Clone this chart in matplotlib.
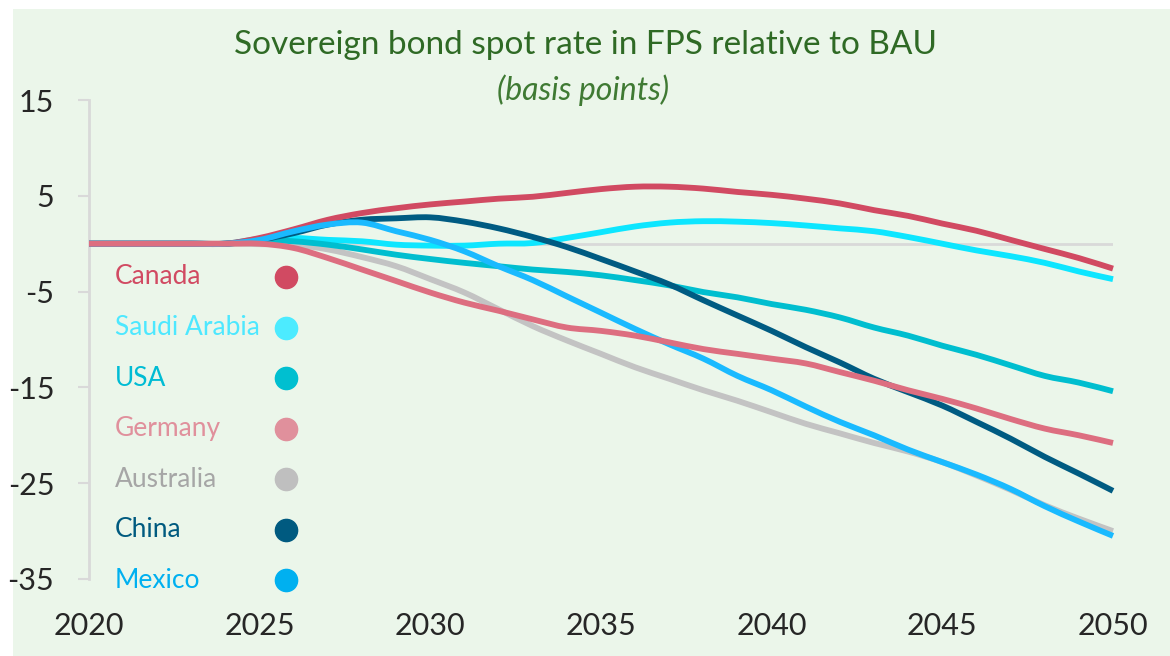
import numpy as np
import matplotlib
matplotlib.use("Agg")
import matplotlib.pyplot as plt
from matplotlib.patches import Rectangle, PathPatch
from matplotlib.path import Path

plt.rcParams['font.family'] = ['Lato', 'DejaVu Sans']

years = list(range(2020, 2051))

# values (basis points), 2020..2050
canada = [0, 0, 0, 0, 0, 0.6, 1.5, 2.5, 3.2, 3.7, 4.1, 4.4, 4.7, 4.9, 5.3, 5.7, 5.95,
          5.95, 5.75, 5.4, 5.1, 4.7, 4.2, 3.5, 2.9, 2.1, 1.35, 0.4, -0.55, -1.5, -2.6]
saudi = [0, 0, 0, 0, 0, 0.5, 0.6, 0.4, 0.25, -0.1, -0.2, -0.2, 0.0, 0.07, 0.6, 1.2, 1.8,
         2.2, 2.35, 2.3, 2.15, 1.9, 1.6, 1.3, 0.7, 0.0, -0.7, -1.3, -2.0, -2.9, -3.7]
usa = [0, 0, 0, 0, 0, 0.35, 0.25, -0.1, -0.6, -1.15, -1.6, -2.0, -2.35, -2.7, -2.95, -3.3,
       -3.8, -4.35, -5.05, -5.6, -6.3, -6.9, -7.7, -8.75, -9.6, -10.65, -11.6, -12.7,
       -13.8, -14.5, -15.4]
germany = [0, 0, 0, 0, 0, 0, -0.45, -1.5, -2.7, -3.9, -5.1, -6.15, -7.0, -7.9, -8.75,
           -9.1, -9.6, -10.3, -11.0, -11.5, -12.0, -12.5, -13.4, -14.3, -15.3, -16.2,
           -17.2, -18.3, -19.3, -20.0, -20.8]
australia = [0, 0, 0, 0, 0, -0.05, -0.1, -0.6, -1.4, -2.35, -3.7, -5.1, -6.85, -8.6,
             -10.1, -11.5, -12.9, -14.1, -15.3, -16.4, -17.6, -18.8, -19.8, -20.8,
             -21.7, -22.8, -24.2, -25.7, -27.3, -28.7, -30.0]
china = [0, 0, 0, 0, 0, 0.4, 1.1, 2.0, 2.5, 2.65, 2.75, 2.3, 1.6, 0.7, -0.35, -1.6, -2.9,
         -4.25, -5.9, -7.5, -9.1, -10.8, -12.4, -14.1, -15.5, -16.9, -18.6, -20.35,
         -22.25, -24.0, -25.8]
mexico = [0, 0, 0, 0, 0, 0.4, 1.3, 2.0, 2.2, 1.3, 0.4, -0.8, -2.35, -3.8, -5.5, -7.2,
          -8.9, -10.5, -12.0, -13.8, -15.3, -17.0, -18.6, -20.0, -21.5, -22.8, -24.1,
          -25.6, -27.4, -29.0, -30.5]

names = ['Canada', 'Saudi Arabia', 'USA', 'Germany', 'Australia', 'China', 'Mexico']
series = [canada, saudi, usa, germany, australia, china, mexico]
line_colors = ['#D14A62', '#0DE6FF', '#00BECF', '#DD6E80', '#C3C3C3', '#005B82', '#1ABAFF']
text_colors = ['#D14A62', '#4DE8FF', '#00BCD4', '#E0909C', '#A6A6A6', '#005A7F', '#00B0F0']
dot_colors = ['#D14A62', '#4CEBFF', '#00BFD0', '#E0909C', '#BFBFBF', '#005A80', '#00B0F0']
draw_order = [4, 1, 2, 5, 0, 6, 3]


def smooth_path(x, y):
    # Excel-style smoothed line: cubic bezier segments through every data point
    x = np.asarray(x, float)
    y = np.asarray(y, float)
    n = len(x)
    verts = [(x[0], y[0])]
    codes = [Path.MOVETO]
    for i in range(n - 1):
        p0 = np.array([x[max(i - 1, 0)], y[max(i - 1, 0)]])
        p1 = np.array([x[i], y[i]])
        p2 = np.array([x[i + 1], y[i + 1]])
        p3 = np.array([x[min(i + 2, n - 1)], y[min(i + 2, n - 1)]])
        c1 = p1 + (p2 - p0) / 6
        c2 = p2 - (p3 - p1) / 6
        verts += [tuple(c1), tuple(c2), tuple(p2)]
        codes += [Path.CURVE4] * 3
    return Path(verts, codes)


fig = plt.figure(figsize=(11.7, 6.56), dpi=100)
fig.add_artist(Rectangle((13 / 1170, 0), 1, 1 - 9 / 656, transform=fig.transFigure,
                         facecolor='#EBF6EA', edgecolor='none', zorder=-10))

ax = fig.add_axes([89 / 1170, 1 - 579 / 656, 1024 / 1170, 479 / 656])
ax.set_facecolor('none')

ax.plot([2020, 2050], [0, 0], color='#D9D9D9', lw=2, zorder=1)
for k, i in enumerate(draw_order):
    ax.add_patch(PathPatch(smooth_path(years, series[i]), facecolor='none',
                           edgecolor=line_colors[i], lw=4.2, capstyle='butt',
                           zorder=2 + k, clip_on=False))

ax.set_xlim(2020, 2050)
ax.set_ylim(-35, 15)
ax.set_xticks(range(2020, 2051, 5))
yt = list(range(-35, 16, 10))
ax.set_yticks(yt)
ax.set_yticklabels([str(v) for v in yt])
for s in ['top', 'right', 'bottom']:
    ax.spines[s].set_visible(False)
ax.spines['left'].set_color('#D9D9D9')
ax.spines['left'].set_linewidth(2)
ax.tick_params(axis='y', length=8, width=1.5, color='#D9D9D9', pad=17,
               labelsize=22, labelcolor='#262626')
ax.tick_params(axis='x', length=0, pad=24, labelsize=22, labelcolor='#262626')

# legend drawn as coloured text + dots
for i, name in enumerate(names):
    yy = 0.6305 - i * 0.1056
    ax.text(0.0254, yy, name, transform=ax.transAxes, color=text_colors[i],
            fontsize=19, va='center', ha='left')
    ax.plot([0.1924], [yy], 'o', transform=ax.transAxes, color=dot_colors[i],
            markersize=16, clip_on=False, zorder=20)

fig.text(585 / 1170, 1 - 45 / 656, 'Sovereign bond spot rate in FPS relative to BAU',
         ha='center', va='center', fontsize=24, color='#2F6A25')
fig.text(583 / 1170, 1 - 90 / 656, '(basis points)', ha='center', va='center',
         fontsize=23, style='italic', color='#3F7A33')

fig.savefig('out.png', dpi=100)
